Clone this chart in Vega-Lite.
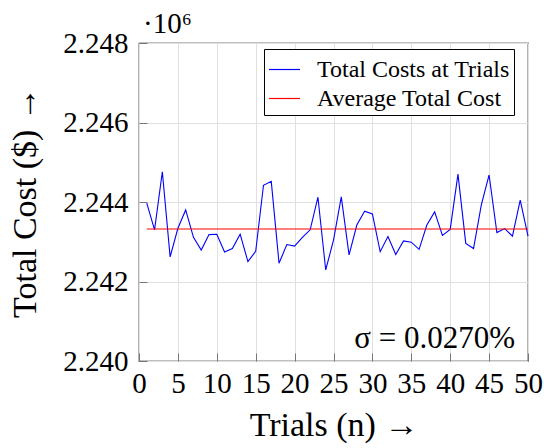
{
  "$schema": "https://vega.github.io/schema/vega-lite/v6.json",
  "width": 389,
  "height": 318,
  "padding": {"left": 8, "top": 10, "right": 15, "bottom": 2},
  "config": {
    "font": "Liberation Serif",
    "view": {"stroke": "black", "strokeWidth": 1.2},
    "axis": {"gridColor": "#e0e0e0", "domain": false, "tickColor": "#777777", "labelColor": "black", "titleColor": "black", "labelFontSize": 29, "titleFontSize": 34, "titleFontWeight": "normal", "tickSize": -8, "labelOverlap": false}
  },
  "title": {"text": "·10⁶", "anchor": "start", "frame": "group", "fontSize": 29, "fontWeight": "normal", "offset": -10, "dx": 4, "color": "black"},
  "datasets": {
    "trials": [
      {"n": 1, "cost": 2243970, "series": "Total Costs at Trials"},
      {"n": 2, "cost": 2243300, "series": "Total Costs at Trials"},
      {"n": 3, "cost": 2244760, "series": "Total Costs at Trials"},
      {"n": 4, "cost": 2242620, "series": "Total Costs at Trials"},
      {"n": 5, "cost": 2243340, "series": "Total Costs at Trials"},
      {"n": 6, "cost": 2243800, "series": "Total Costs at Trials"},
      {"n": 7, "cost": 2243110, "series": "Total Costs at Trials"},
      {"n": 8, "cost": 2242790, "series": "Total Costs at Trials"},
      {"n": 9, "cost": 2243180, "series": "Total Costs at Trials"},
      {"n": 10, "cost": 2243190, "series": "Total Costs at Trials"},
      {"n": 11, "cost": 2242740, "series": "Total Costs at Trials"},
      {"n": 12, "cost": 2242830, "series": "Total Costs at Trials"},
      {"n": 13, "cost": 2243190, "series": "Total Costs at Trials"},
      {"n": 14, "cost": 2242500, "series": "Total Costs at Trials"},
      {"n": 15, "cost": 2242760, "series": "Total Costs at Trials"},
      {"n": 16, "cost": 2244420, "series": "Total Costs at Trials"},
      {"n": 17, "cost": 2244520, "series": "Total Costs at Trials"},
      {"n": 18, "cost": 2242460, "series": "Total Costs at Trials"},
      {"n": 19, "cost": 2242930, "series": "Total Costs at Trials"},
      {"n": 20, "cost": 2242890, "series": "Total Costs at Trials"},
      {"n": 21, "cost": 2243110, "series": "Total Costs at Trials"},
      {"n": 22, "cost": 2243300, "series": "Total Costs at Trials"},
      {"n": 23, "cost": 2244120, "series": "Total Costs at Trials"},
      {"n": 24, "cost": 2242290, "series": "Total Costs at Trials"},
      {"n": 25, "cost": 2243040, "series": "Total Costs at Trials"},
      {"n": 26, "cost": 2244130, "series": "Total Costs at Trials"},
      {"n": 27, "cost": 2242670, "series": "Total Costs at Trials"},
      {"n": 28, "cost": 2243420, "series": "Total Costs at Trials"},
      {"n": 29, "cost": 2243770, "series": "Total Costs at Trials"},
      {"n": 30, "cost": 2243700, "series": "Total Costs at Trials"},
      {"n": 31, "cost": 2242750, "series": "Total Costs at Trials"},
      {"n": 32, "cost": 2243130, "series": "Total Costs at Trials"},
      {"n": 33, "cost": 2242680, "series": "Total Costs at Trials"},
      {"n": 34, "cost": 2243020, "series": "Total Costs at Trials"},
      {"n": 35, "cost": 2242990, "series": "Total Costs at Trials"},
      {"n": 36, "cost": 2242810, "series": "Total Costs at Trials"},
      {"n": 37, "cost": 2243420, "series": "Total Costs at Trials"},
      {"n": 38, "cost": 2243750, "series": "Total Costs at Trials"},
      {"n": 39, "cost": 2243160, "series": "Total Costs at Trials"},
      {"n": 40, "cost": 2243310, "series": "Total Costs at Trials"},
      {"n": 41, "cost": 2244700, "series": "Total Costs at Trials"},
      {"n": 42, "cost": 2242960, "series": "Total Costs at Trials"},
      {"n": 43, "cost": 2242830, "series": "Total Costs at Trials"},
      {"n": 44, "cost": 2243930, "series": "Total Costs at Trials"},
      {"n": 45, "cost": 2244680, "series": "Total Costs at Trials"},
      {"n": 46, "cost": 2243230, "series": "Total Costs at Trials"},
      {"n": 47, "cost": 2243330, "series": "Total Costs at Trials"},
      {"n": 48, "cost": 2243140, "series": "Total Costs at Trials"},
      {"n": 49, "cost": 2244050, "series": "Total Costs at Trials"},
      {"n": 50, "cost": 2243140, "series": "Total Costs at Trials"}
    ],
    "average": [
      {"n": 1, "n2": 50, "cost": 2243320, "series": "Average Total Cost"}
    ],
    "note": [
      {"n": 50, "cost": 2240000, "label": "σ = 0.0270%"}
    ]
  },
  "encoding": {
    "x": {"field": "n", "type": "quantitative", "scale": {"domain": [0, 50], "nice": false},
          "axis": {"values": [0, 5, 10, 15, 20, 25, 30, 35, 40, 45, 50], "title": "Trials (n) →", "labelPadding": 16, "titlePadding": 10, "labelFlush": false, "labelOverlap": false}},
    "y": {"field": "cost", "type": "quantitative", "scale": {"domain": [2240000, 2248000], "nice": false, "zero": false},
          "axis": {"values": [2240000, 2242000, 2244000, 2246000, 2248000], "labelExpr": "format(datum.value / 1000000, '.3f')", "title": "Total Cost ($) →", "labelPadding": 19, "titlePadding": 20, "labelOverlap": false}}
  },
  "layer": [
    {
      "data": {"name": "trials"},
      "mark": {"type": "line", "strokeWidth": 1.1},
      "encoding": {
        "color": {"field": "series", "type": "nominal",
                  "scale": {"domain": ["Total Costs at Trials", "Average Total Cost"], "range": ["#0000ff", "#ff0000"]},
                  "legend": {"title": null, "orient": "none", "legendX": 125, "legendY": 6, "symbolType": "stroke", "symbolSize": 961, "symbolStrokeWidth": 1.2, "labelFontSize": 24, "strokeColor": "black", "fillColor": "white", "padding": 4, "rowPadding": 0, "labelOffset": 16, "labelLimit": 300}}
      }
    },
    {
      "data": {"name": "average"},
      "mark": {"type": "rule", "strokeWidth": 1.1},
      "encoding": {
        "x2": {"field": "n2"},
        "color": {"field": "series", "type": "nominal"}
      }
    },
    {
      "data": {"name": "note"},
      "mark": {"type": "text", "align": "right", "baseline": "bottom", "dx": -13, "dy": -6, "fontSize": 31, "color": "black"},
      "encoding": {
        "text": {"field": "label"}
      }
    }
  ]
}
